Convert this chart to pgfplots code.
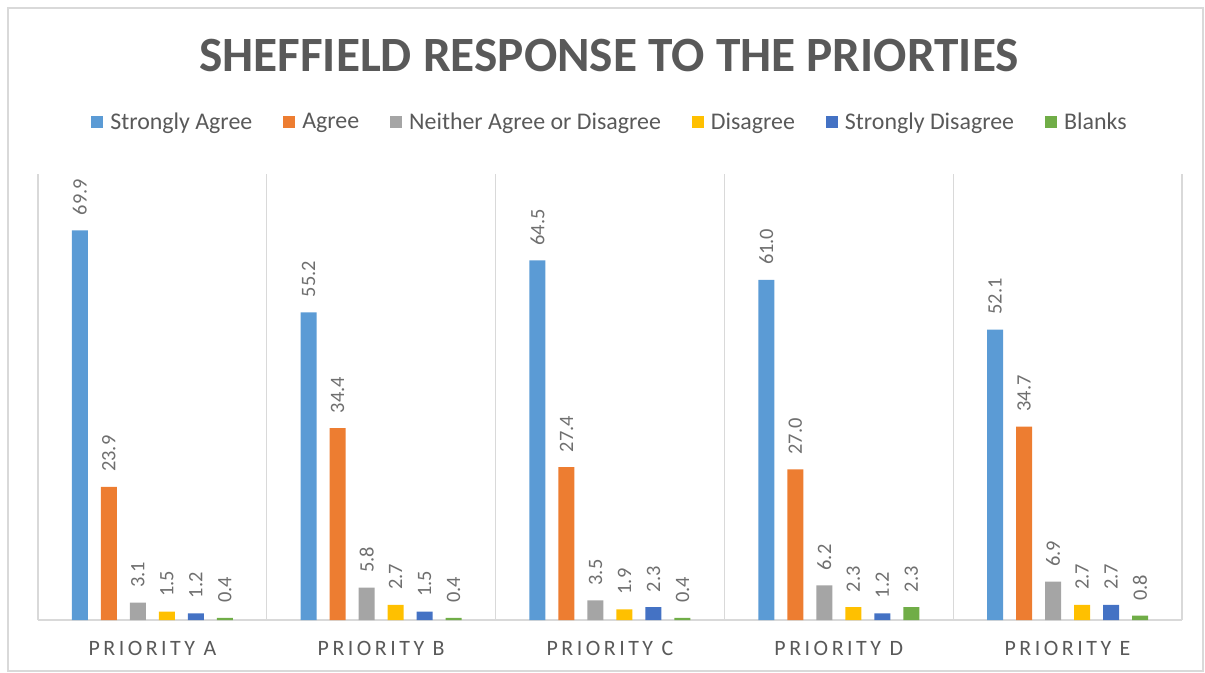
\documentclass[border=0pt]{standalone}
\usepackage{pgfplots}
\pgfplotsset{compat=1.18}
\usepackage{fontspec}
\setmainfont{Carlito}
\newfontfamily\spaced[LetterSpace=16]{Carlito}
\definecolor{cA}{HTML}{5B9BD5}
\definecolor{cB}{HTML}{ED7D31}
\definecolor{cC}{HTML}{A5A5A5}
\definecolor{cD}{HTML}{FFC000}
\definecolor{cE}{HTML}{4472C4}
\definecolor{cF}{HTML}{70AD47}
\definecolor{txt}{HTML}{595959}
\definecolor{lbl}{HTML}{6F6F6F}
\definecolor{gridc}{HTML}{D9D9D9}
\begin{document}
\begin{tikzpicture}
\path[use as bounding box] (0bp,0bp) rectangle (1205bp,673bp);
\draw[color=gridc, line width=1.2bp] (8bp,2bp) rectangle (1203bp,665bp);
\node[font=\fontsize{49.5}{52}\selectfont\bfseries, text=txt] at (609bp,617bp) {SHEFFIELD RESPONSE TO THE PRIORTIES};
\begin{axis}[
  at={(38bp,53bp)}, anchor=south west,
  scale only axis, width=1144bp, height=446bp,
  ymin=0, ymax=80, xmin=-0.5, xmax=4.5,
  ybar=13bp, bar width=16bp,
  axis y line=none,
  axis x line=bottom,
  x axis line style={-, draw=gridc, line width=1.5bp},
  xtick={0,1,2,3,4},
  xticklabels={PRIORITY A,PRIORITY B,PRIORITY C,PRIORITY D,PRIORITY E},
  xticklabel style={font=\fontsize{22}{24}\spaced, text=txt, yshift=-18bp},
  major tick length=0pt,
  minor xtick={-0.5,0.5,1.5,2.5,3.5,4.5},
  minor tick length=0pt,
  xminorgrids,
  minor grid style={draw=gridc, line width=1.2bp},
  nodes near coords,
  /pgf/number format/fixed, /pgf/number format/fixed zerofill, /pgf/number format/precision=1,
  /pgf/number format/assume math mode=true,
  every node near coord/.append style={rotate=90, anchor=west, inner sep=0pt, outer xsep=15bp, font=\fontsize{20.5}{22}\selectfont, text=lbl},
  legend style={at={(0.5,1)}, anchor=center, yshift=52bp, draw=none, fill=none,
    font=\fontsize{24}{26}\selectfont, text=txt, legend columns=6,
    /tikz/every even column/.append style={column sep=29bp},
    /tikz/every odd column/.append style={column sep=5bp}},
  legend image code/.code={\fill[#1] (0bp,-6bp) rectangle (12bp,6bp);},
  clip=false,
]
\addplot[fill=cA, draw=none] coordinates {(0,69.9) (1,55.2) (2,64.5) (3,61.0) (4,52.1)};
\addplot[fill=cB, draw=none] coordinates {(0,23.9) (1,34.4) (2,27.4) (3,27.0) (4,34.7)};
\addplot[fill=cC, draw=none] coordinates {(0,3.1) (1,5.8) (2,3.5) (3,6.2) (4,6.9)};
\addplot[fill=cD, draw=none] coordinates {(0,1.5) (1,2.7) (2,1.9) (3,2.3) (4,2.7)};
\addplot[fill=cE, draw=none] coordinates {(0,1.2) (1,1.5) (2,2.3) (3,1.2) (4,2.7)};
\addplot[fill=cF, draw=none] coordinates {(0,0.4) (1,0.4) (2,0.4) (3,2.3) (4,0.8)};
\legend{Strongly Agree, Agree, Neither Agree or Disagree, Disagree, Strongly Disagree, Blanks}
\end{axis}
\end{tikzpicture}
\end{document}
